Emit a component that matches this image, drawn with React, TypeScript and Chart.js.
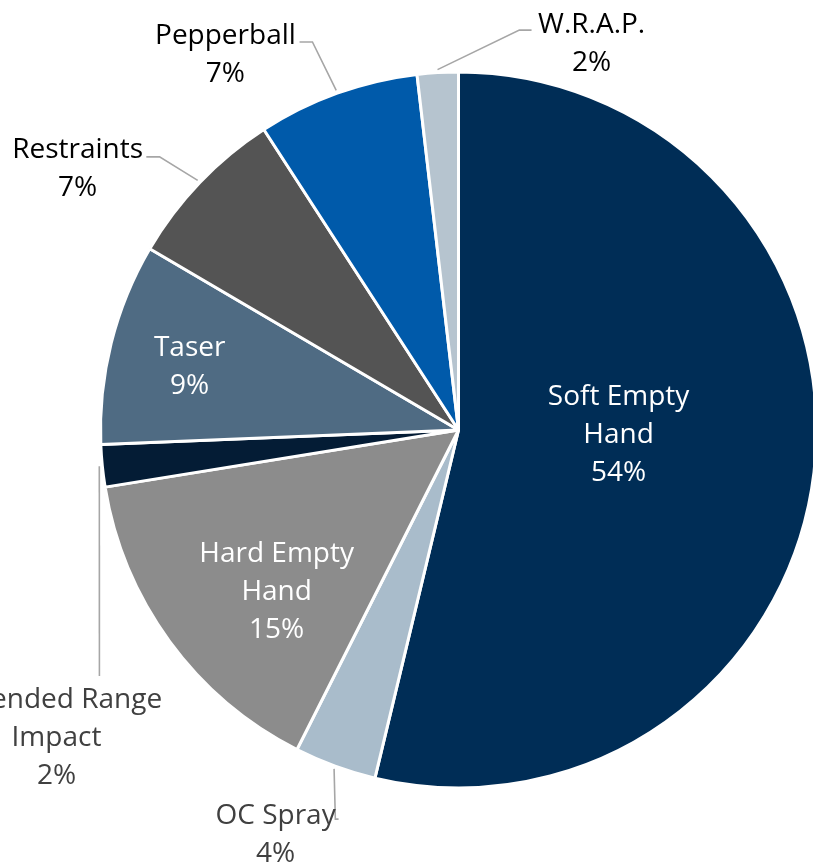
import React, { useEffect, useRef } from "react";
import Chart from "chart.js/auto";

const categories = [
  "Soft Empty Hand",
  "OC Spray",
  "Hard Empty Hand",
  "Extended Range Impact",
  "Taser",
  "Restraints",
  "Pepperball",
  "W.R.A.P.",
];
const labelLines = [
  ["Soft Empty", "Hand"],
  ["OC Spray"],
  ["Hard Empty", "Hand"],
  ["Extended Range", "Impact"],
  ["Taser"],
  ["Restraints"],
  ["Pepperball"],
  ["W.R.A.P."],
];
const values = [53.75, 3.7, 15.0, 1.9, 9.1, 7.4, 7.3, 1.85];
const colors = [
  "#002D56",
  "#A9BCCB",
  "#8C8C8C",
  "#041C35",
  "#4F6B83",
  "#545454",
  "#005AAA",
  "#B6C4CF",
];

// label placement, in units of the pie radius relative to its centre
const labelPlacement = [
  { x: 0.447, y: 0.008, color: "#FFFFFF", leader: null },
  { x: -0.511, y: 1.126, color: "#404040", leader: [[-0.344, 1.087], [-0.335, 1.087]] },
  { x: -0.508, y: 0.447, color: "#FFFFFF", leader: null },
  { x: -1.123, y: 0.855, color: "#404040", leader: [[-1.003, 0.687]] },
  { x: -0.751, y: -0.182, color: "#FFFFFF", leader: null },
  { x: -1.064, y: -0.735, color: "#000000", leader: [[-0.835, -0.763], [-0.872, -0.763]] },
  { x: -0.651, y: -1.053, color: "#000000", leader: [[-0.408, -1.084], [-0.444, -1.084]] },
  { x: 0.372, y: -1.084, color: "#000000", leader: [[0.17, -1.117], [0.204, -1.117]] },
];

const FONT = "28px 'Open Sans'";
const LINE_H = 38;
const TEXT_SHIFT = 2;

const labelPlugin = {
  id: "pieLabels",
  afterDatasetsDraw(chart: any) {
    const meta = chart.getDatasetMeta(0);
    const ctx = chart.ctx;
    const total = values.reduce((a, b) => a + b, 0);
    ctx.save();
    meta.data.forEach((arc: any, i: number) => {
      const { x, y, startAngle, endAngle, outerRadius } = arc.getProps(
        ["x", "y", "startAngle", "endAngle", "outerRadius"],
        true
      );
      const R = outerRadius;
      const p = labelPlacement[i];
      if (p.leader) {
        const mid = (startAngle + endAngle) / 2;
        ctx.beginPath();
        ctx.strokeStyle = "#A6A6A6";
        ctx.lineWidth = 1.6;
        ctx.moveTo(x + Math.cos(mid) * (R + 3), y + Math.sin(mid) * (R + 3));
        p.leader.forEach((pt) => ctx.lineTo(x + pt[0] * R, y + pt[1] * R));
        ctx.stroke();
      }
      const lines = [...labelLines[i], Math.round((values[i] / total) * 100) + "%"];
      const cx = x + p.x * R;
      const cy = y + p.y * R + TEXT_SHIFT;
      ctx.font = FONT;
      ctx.fillStyle = p.color;
      ctx.textAlign = "center";
      ctx.textBaseline = "middle";
      lines.forEach((t, k) => {
        ctx.fillText(t, cx, cy + (k - (lines.length - 1) / 2) * LINE_H);
      });
    });
    ctx.restore();
  },
};

export default function App() {
  const ref = useRef<HTMLCanvasElement>(null);
  useEffect(() => {
    document.body.style.margin = "0";
    const chart = new Chart(ref.current as HTMLCanvasElement, {
      type: "pie",
      data: {
        labels: categories,
        datasets: [
          {
            data: values,
            backgroundColor: colors,
            borderColor: "#FFFFFF",
            borderWidth: 3,
          },
        ],
      },
      options: {
        animation: false,
        responsive: false,
        layout: { padding: { top: 70, bottom: 77, left: 99, right: 99 } },
        plugins: {
          legend: { display: false },
          tooltip: { enabled: false },
        },
      },
      plugins: [labelPlugin],
    });
    return () => chart.destroy();
  }, []);
  return (
    <div
      style={{
        position: "fixed",
        top: 0,
        left: 0,
        width: 813,
        height: 867,
        overflow: "hidden",
        background: "#FFFFFF",
      }}
    >
      <canvas ref={ref} width={917} height={867} style={{ width: 917, height: 867 }} />
    </div>
  );
}
